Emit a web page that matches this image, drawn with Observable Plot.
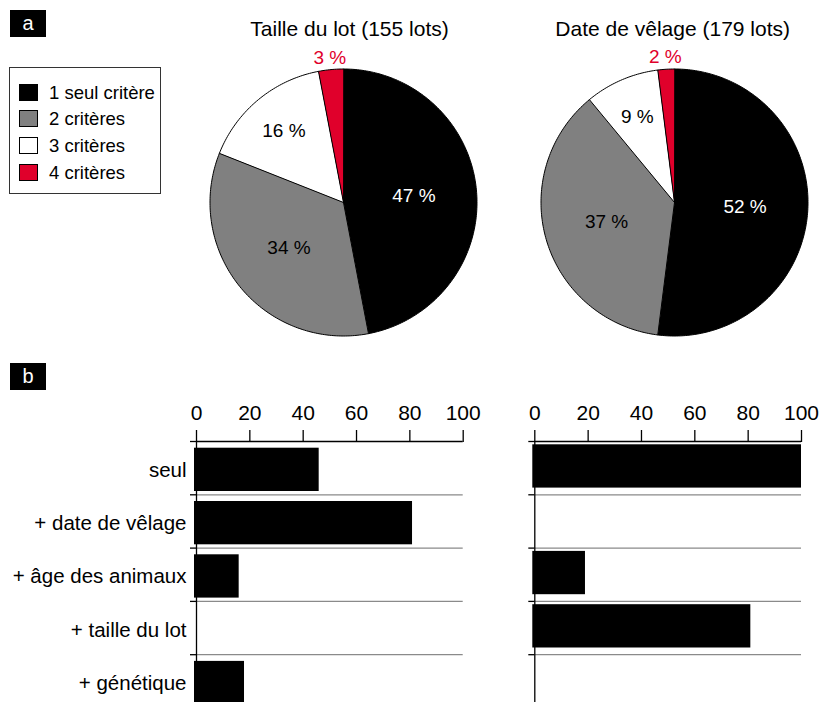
<!DOCTYPE html>
<html><head><meta charset="utf-8">
<script src="https://cdn.jsdelivr.net/npm/d3@7"></script>
<script src="https://cdn.jsdelivr.net/npm/@observablehq/plot@0.6"></script>
<style>
html,body{margin:0;padding:0;overflow:hidden;background:#fff;}
#root{position:relative;width:824px;height:702px;overflow:hidden;font-family:"Liberation Sans",Arial,sans-serif;color:#000;}
.abs{position:absolute;}
.tag{position:absolute;background:#000;color:#fff;font-size:20px;width:36px;height:27px;line-height:27px;text-align:center;}
.title{position:absolute;font-size:21px;line-height:21px;text-align:center;white-space:nowrap;width:320px;}
.legend{position:absolute;left:9px;top:67px;width:152px;height:127px;border:1px solid #333;box-sizing:border-box;}
.sw{position:absolute;width:19px;height:17px;border:1px solid #000;box-sizing:border-box;}
.lt{position:absolute;font-size:18.5px;line-height:18.5px;white-space:nowrap;}
.plot svg{max-width:none;overflow:visible;}
</style></head><body><div id="root"></div>
<script>
// ---------- data ----------
const criteria = ["1 seul critère", "2 critères", "3 critères", "4 critères"];
const criteriaColors = ["#000000", "#808080", "#ffffff", "#e0002b"];
const pieTitles = ["Taille du lot (155 lots)", "Date de vêlage (179 lots)"];
const pieTaille = [47, 34, 16, 3];
const pieVelage = [52, 37, 9, 2];
const barCategories = ["seul", "+ date de vêlage", "+ âge des animaux", "+ taille du lot", "+ génétique"];
const barTaille = [46, 81, 16, 0, 18];
const barVelage = [100, 0, 19, 81, 0];
const xTicks = [0, 20, 40, 60, 80, 100];
const panelTags = ["a", "b"];

// ---------- layout ----------
const FONT = '"Liberation Sans", Arial, sans-serif';
const root = document.getElementById("root");
function place(node, left, top, cls) {
  const div = document.createElement("div");
  div.className = "abs " + (cls || "");
  div.style.left = left + "px";
  div.style.top = top + "px";
  div.appendChild(node);
  root.appendChild(div);
  return div;
}
function el(tag, cls, text, style) {
  const e = document.createElement(tag);
  if (cls) e.className = cls;
  if (text != null) e.textContent = text;
  if (style) Object.assign(e.style, style);
  root.appendChild(e);
  return e;
}

// panel tags
el("div", "tag", panelTags[0], {left: "10px", top: "10px"});
el("div", "tag", panelTags[1], {left: "10px", top: "363px"});

// legend
el("div", "legend");
criteria.forEach((c, i) => {
  el("div", "sw", null, {left: "19px", top: (83.5 + i * 26.67) + "px", background: criteriaColors[i]});
  el("div", "lt", c, {left: "49px", top: (83.8 + i * 26.67) + "px"});
});

// ---------- pies ----------
const R = 133.5, PS = 320, D = (PS / 2) / R;
function pie(values) {
  const total = d3.sum(values);
  const pts = [], labels = [];
  let acc = 0;
  values.forEach((v, i) => {
    const a0 = acc / total * 2 * Math.PI, a1 = (acc + v) / total * 2 * Math.PI;
    acc += v;
    pts.push({cat: criteria[i], x: 0, y: 0});
    const n = Math.max(2, Math.ceil((a1 - a0) / (Math.PI / 180)));
    for (let k = 0; k <= n; k++) {
      const a = a0 + (a1 - a0) * k / n;
      pts.push({cat: criteria[i], x: Math.sin(a), y: Math.cos(a)});
    }
    const share = v / total, am = (a0 + a1) / 2;
    const r = share < 0.05 ? 1.09 : share < 0.3 ? 0.7 : 0.53;
    labels.push({text: `${v} %`, x: r * Math.sin(am), y: r * Math.cos(am),
      fill: i === 0 ? "#ffffff" : i === 3 ? criteriaColors[3] : "#000000"});
  });
  return Plot.plot({
    width: PS, height: PS, margin: 0,
    x: {domain: [-D, D], axis: null},
    y: {domain: [-D, D], axis: null},
    color: {domain: criteria, range: criteriaColors},
    style: {fontFamily: FONT, background: "transparent", overflow: "visible"},
    marks: [
      Plot.line(pts, {x: "x", y: "y", z: "cat", fill: "cat", stroke: "#000", strokeWidth: 1, curve: "linear-closed"}),
      ...labels.map(l => Plot.text([l], {x: "x", y: "y", text: "text", fill: l.fill, fontSize: 19}))
    ]
  });
}
const pieCenters = [[342.5, 202.2], [673.7, 202.2]];
[pieTaille, pieVelage].forEach((vals, k) => {
  const [cx, cy] = pieCenters[k];
  place(pie(vals), cx - PS / 2, cy - PS / 2, "plot");
  el("div", "title", pieTitles[k], {left: (cx + (k === 0 ? 7 : -1) - 160) + "px", top: "17.5px"});
});

// ---------- bars ----------
function bars(values, opts) {
  const rows = barCategories.map((c, i) => ({cat: c, i, v: values[i]}));
  const marks = [
    Plot.ruleY(d3.range(1, 6), {stroke: "#8a8a8a", strokeWidth: 1.2}),
    Plot.rect(rows.filter(d => d.v > 0), {x1: 0, x2: "v", y1: "i", y2: d => d.i + 1, fill: "#000",
      insetTop: opts.insetTop, insetBottom: opts.insetBottom, insetLeft: -2}),
    Plot.ruleY([0], {stroke: "#000", strokeWidth: 1.3}),
    Plot.ruleX([0], {stroke: "#000", strokeWidth: 1.3}),
    Plot.axisX({anchor: "top", ticks: xTicks, tickSize: 12, tickPadding: 10, fontSize: 21, label: null, strokeWidth: 1.3}),
    Plot.axisY({ticks: d3.range(0, 6), tickSize: 6, tickFormat: () => "", label: null, strokeWidth: 1.3})
  ];
  if (opts.labels) {
    marks.push(Plot.axisY({ticks: rows.map(d => d.i + 0.5), tickSize: 0, tickPadding: 10,
      tickFormat: t => barCategories[Math.floor(t)], fontSize: 20.5, dy: 2, label: null}));
  }
  return Plot.plot({
    width: opts.width, height: 332,
    marginTop: 61, marginBottom: 4.5, marginLeft: opts.marginLeft, marginRight: opts.marginRight,
    x: {domain: [0, 100], label: null},
    y: {domain: [0, 5], reverse: true, label: null},
    style: {fontFamily: FONT, background: "transparent", overflow: "visible"},
    marks
  });
}
place(bars(barTaille, {width: 480, marginLeft: 196, marginRight: 17.3, insetTop: 6.7, insetBottom: 3.3, labels: true}), 0, 380, "plot");
place(bars(barVelage, {width: 344, marginLeft: 54.3, marginRight: 23, insetTop: 3.3, insetBottom: 6.7, labels: false}), 480, 380, "plot");
</script>
</body></html>
